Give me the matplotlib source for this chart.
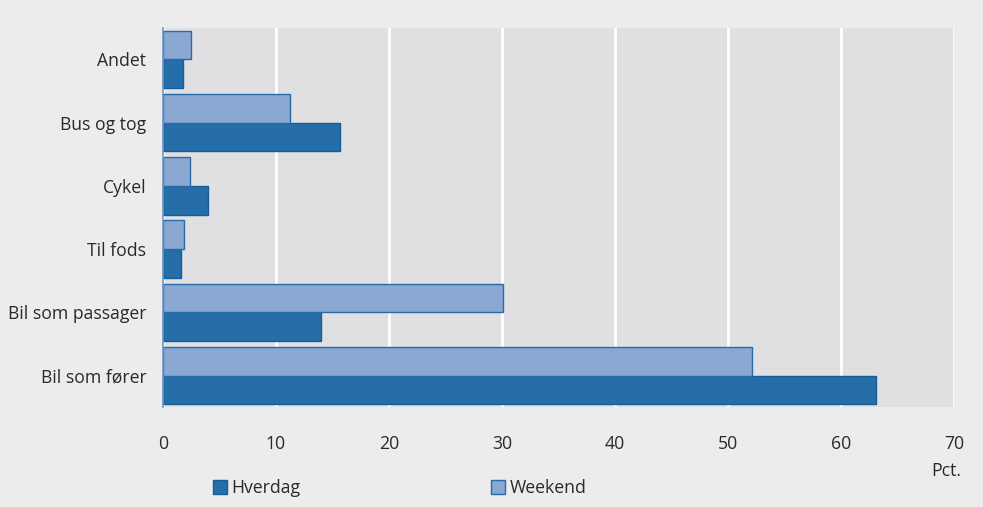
import numpy as np
from matplotlib import pyplot as plt

# data
categories = ['Andet', 'Bus og tog', 'Cykel', 'Til fods', 'Bil som passager', 'Bil som fører']
hverdag = [1.8, 15.7, 4.0, 1.6, 14.0, 63.1]
weekend = [2.5, 11.2, 2.4, 1.9, 30.1, 52.1]
xticks = [0, 10, 20, 30, 40, 50, 60, 70]

plt.rcParams['font.family'] = ['Open Sans', 'DejaVu Sans']

fig = plt.figure(figsize=(9.83, 5.07), dpi=100, facecolor='#ebeceb')
ax = fig.add_axes([0.1658, 0.197, 0.8047, 0.748])
ax.set_facecolor('#e0e0e2')

y = np.arange(len(categories))
h = 0.455
ax.barh(y + h / 2, hverdag, height=h, color='#266ea8', edgecolor='#185c9c',
        linewidth=1, label='Hverdag', zorder=3)
ax.barh(y - h / 2, weekend, height=h, color='#8ba8d2', edgecolor='#2a6aa8',
        linewidth=1, label='Weekend', zorder=3)

ax.set_xlim(0, 70)
ax.set_ylim(len(categories) - 0.5, -0.5)
ax.set_xticks(xticks)
ax.set_yticks(y)
ax.set_yticklabels(categories)
ax.tick_params(length=0, labelsize=12.7, colors='#2a2a2a')
ax.tick_params(axis='x', pad=20)
ax.tick_params(axis='y', pad=12)
ax.grid(axis='x', color='white', linewidth=2, zorder=1)

for s in ['top', 'right', 'bottom']:
    ax.spines[s].set_visible(False)
ax.spines['left'].set_color('#6c95c4')
ax.spines['left'].set_linewidth(1.2)
ax.spines['left'].set_zorder(4)

fig.text(0.963, 0.071, 'Pct.', ha='center', va='center', fontsize=12.7, color='#2a2a2a')

fig.legend(loc='lower left', bbox_to_anchor=(0.2005, -0.012), ncol=2, frameon=False,
           fontsize=12.7, handlelength=0.8, handleheight=0.8, handletextpad=0.25,
           columnspacing=10.8, labelcolor='#2a2a2a')

plt.savefig('out.png', dpi=100, facecolor=fig.get_facecolor())
